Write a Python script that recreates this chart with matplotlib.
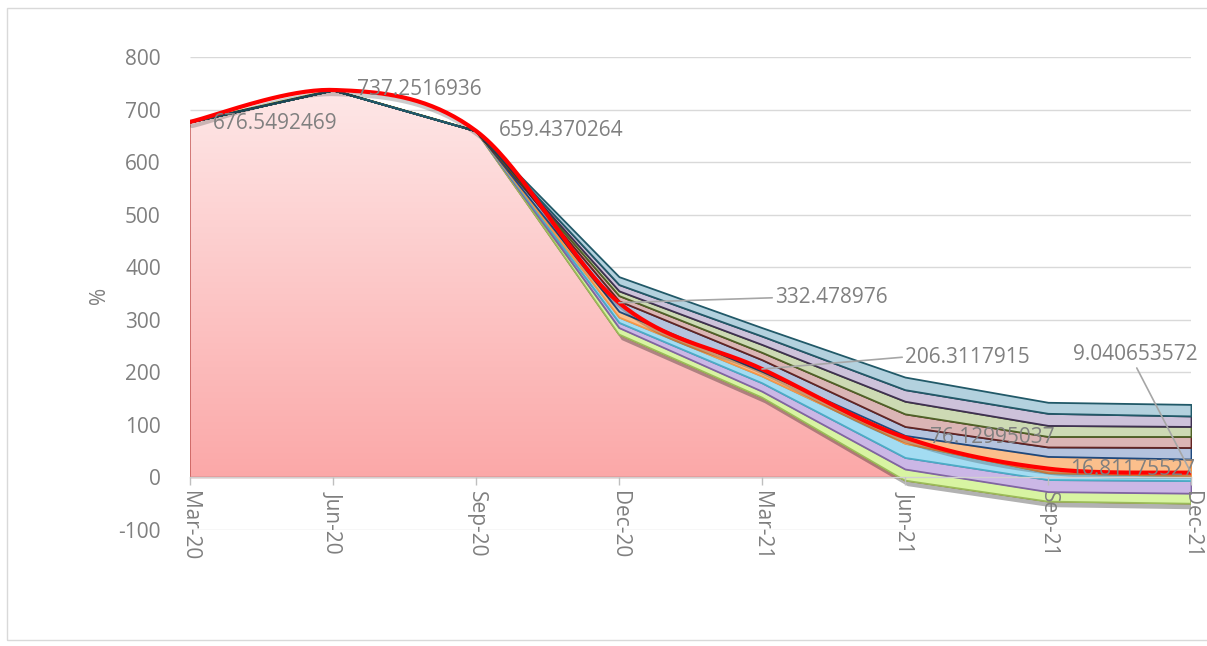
import numpy as np
import matplotlib
matplotlib.use('Agg')
import matplotlib.pyplot as plt
from matplotlib import patheffects as pe
from matplotlib.colors import LinearSegmentedColormap
from matplotlib.patches import Polygon, Rectangle

plt.rcParams['font.family'] = ['Open Sans', 'DejaVu Sans']
plt.rcParams['axes.unicode_minus'] = False

# ---------------- data ----------------
dates = ['Mar-20', 'Jun-20', 'Sep-20', 'Dec-20', 'Mar-21', 'Jun-21', 'Sep-21', 'Dec-21']
central = [676.5492469, 737.2516936, 659.4370264, 332.478976, 206.3117915,
           76.12995037, 16.81175527, 9.040653572]
base = [676.5492469, 737.2516936, 659.4370264, 272, 152, -6, -46, -50]
band_1 = [0, 0, 0, 13, 12, 22, 19, 20]
band_2 = [0, 0, 0, 10, 16, 22, 23, 24]
band_3 = [0, 0, 0, 10, 13, 27, 13, 9]
band_4 = [0, 0, 0, 11, 9, 15, 31, 32]
band_5 = [0, 0, 0, 20, 22, 17, 18, 22]
band_6 = [0, 0, 0, 10, 14, 24, 20, 21]
band_7 = [0, 0, 0, 9, 15, 24, 21, 19]
band_8 = [0, 0, 0, 12, 16, 22, 23, 20]
band_9 = [0, 0, 0, 15, 16, 24, 21, 22]
y_ticks = list(range(-100, 801, 100))

bands = [band_1, band_2, band_3, band_4, band_5, band_6, band_7, band_8, band_9]
band_fill = ['#d8f4a2', '#cbb7e6', '#a3dcf2', '#fbbf8c', '#b4c3de',
             '#dbb5b5', '#cddab4', '#cdc2da', '#b3d1de']
band_edge = ['#9bbb59', '#8064a2', '#4bacc6', '#f79646', '#1f497d',
             '#632523', '#4f6228', '#3f3151', '#215968']

# ---------------- figure ----------------
W, H = 1207, 646
fig = plt.figure(figsize=(W / 100, H / 100), dpi=100)
ax = fig.add_axes([190 / W, 116 / H, 1001 / W, 473 / H])
x = np.arange(len(dates))

# gridlines (behind)
ax.hlines(y_ticks, 0, len(dates) - 1, colors='#d9d9d9', linewidth=1.0, zorder=0)

# base pink area with vertical gradient
verts = [(x[0], 0)] + list(zip(x, base)) + [(x[-1], 0)]
poly = Polygon(verts, closed=True, facecolor='none', edgecolor='#c0504d',
               linewidth=1.0, zorder=1.2)
ax.add_patch(poly)
cmap = LinearSegmentedColormap.from_list('pk', ['#fba3a3', '#fee8e8'])
grad = np.linspace(0, 1, 256).reshape(-1, 1)
im = ax.imshow(grad, extent=[x[0], x[-1], -60, 745], origin='lower',
               cmap=cmap, aspect='auto', zorder=1.1, interpolation='bicubic')
im.set_clip_path(poly)

# stacked bands
lower = np.array(base, dtype=float)
for i, (b, fc, ec) in enumerate(zip(bands, band_fill, band_edge)):
    upper = lower + np.array(b, dtype=float)
    kw = {}
    if i == 0:
        kw['path_effects'] = [pe.SimplePatchShadow(offset=(2, -4), shadow_rgbFace='k', alpha=0.3),
                              pe.Normal()]
    ax.fill_between(x, lower, upper, facecolor=fc, edgecolor=ec,
                    linewidth=1.3, zorder=2 + i * 0.01, **kw)
    lower = upper

# smoothed central line (Excel-style Bezier smoothing)
def smooth(xs, ys, n=40):
    P = np.column_stack([xs, ys]).astype(float)
    out = []
    for i in range(len(P) - 1):
        p0 = P[i - 1] if i > 0 else P[i]
        p1, p2 = P[i], P[i + 1]
        p3 = P[i + 2] if i + 2 < len(P) else P[i + 1]
        c1 = p1 + (p2 - p0) / 6.0
        c2 = p2 - (p3 - p1) / 6.0
        t = np.linspace(0, 1, n)[:, None]
        seg = ((1 - t) ** 3) * p1 + 3 * ((1 - t) ** 2) * t * c1 + 3 * (1 - t) * t ** 2 * c2 + t ** 3 * p2
        out.append(seg if i == 0 else seg[1:])
    return np.vstack(out)

curve = smooth(x, central)
ax.plot(curve[:, 0], curve[:, 1], color='#ff0000', linewidth=3.0, zorder=4,
        solid_capstyle='round',
        path_effects=[pe.SimpleLineShadow(offset=(1.5, -3), shadow_color='k', alpha=0.2),
                      pe.Normal()])

# data labels
label_color = '#808080'
offsets = [(23, -2, None), (24, 0, None), (23, 0, None), (156, 5, (0, 0.5)),
           (143, 12, (0, 0.5)), (25, 0, None), (22, -1, None), (-118, 118, (0.5, 0))]
for i, (dx, dy, rel) in enumerate(offsets):
    txt = f'{central[i]:.10g}'
    ap = None
    if rel is not None:
        ap = dict(arrowstyle='-', color='#a6a6a6', lw=1.2, relpos=rel,
                  shrinkA=0, shrinkB=0)
    ax.annotate(txt, xy=(x[i], central[i]), xytext=(dx, dy), textcoords='offset pixels',
                ha='left', va='center', fontsize=15, color=label_color,
                arrowprops=ap, zorder=6, annotation_clip=False)

# axes styling
ax.set_xlim(x[0], x[-1])
ax.set_ylim(-100, 800)
ax.set_yticks(y_ticks)
ax.set_xticks(x)
ax.tick_params(axis='y', length=0, pad=21, labelsize=15, labelcolor='#7f7f7f')
ax.tick_params(axis='x', length=6, width=1, color='#bfbfbf', pad=4,
               labelsize=15, labelcolor='#7f7f7f', labelrotation=-90)
ax.set_xticklabels(dates)
for lab in ax.get_xticklabels():
    lab.set_rotation(-90)
    lab.set_ha('center')
    lab.set_va('top')
for s in ['top', 'right', 'left']:
    ax.spines[s].set_visible(False)
ax.spines['bottom'].set_position(('data', 0))
ax.spines['bottom'].set_color('#d0d0d0')
ax.spines['bottom'].set_linewidth(1.0)
ax.spines['bottom'].set_zorder(5)
ax.set_axisbelow(False)
ax.xaxis.set_zorder(5)
ax.patch.set_visible(False)

fig.text(100 / W, 1 - 295 / H, '%', rotation=90, ha='center', va='center',
         fontsize=15, color='#7f7f7f')

# outer chart border
fig.patches.append(Rectangle((7 / W, 6 / H), 1.2, (640 - 8) / H,
                             transform=fig.transFigure, fill=False,
                             edgecolor='#d9d9d9', linewidth=1.0))

fig.savefig('out.png', dpi=100)
